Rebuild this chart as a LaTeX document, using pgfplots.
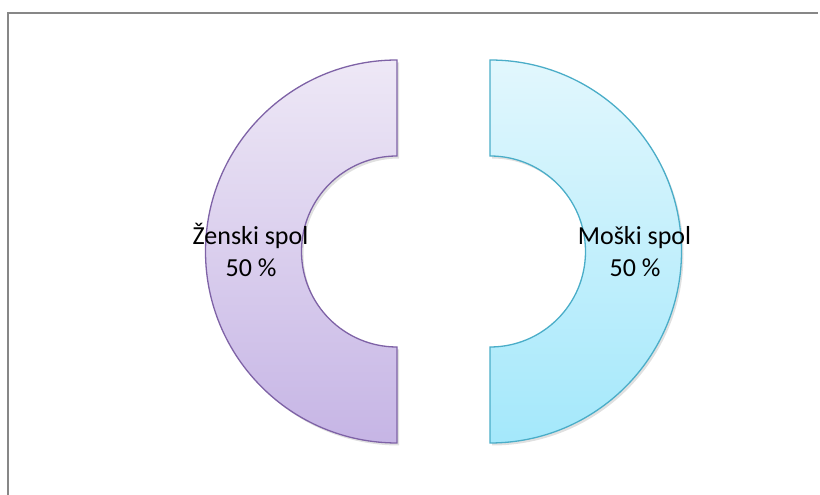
\documentclass[border=0pt]{standalone}
\usepackage{fontspec}
\setmainfont{Carlito}
\usepackage{pgfplots}
\pgfplotsset{compat=1.18}

\definecolor{frameGray}{HTML}{878787}
\definecolor{purpleTop}{HTML}{EEE8F6}
\definecolor{purpleBot}{HTML}{C6B5E5}
\definecolor{purpleEdge}{HTML}{7E62A6}
\definecolor{cyanTop}{HTML}{E2F7FD}
\definecolor{cyanBot}{HTML}{A4E8FB}
\definecolor{cyanEdge}{HTML}{4AADC8}

% shares (percent)
\def\vZ{50}
\def\vM{50}

\begin{document}
\begin{tikzpicture}
\begin{axis}[
    width=820pt, height=495pt, scale only axis,
    xmin=0, xmax=820, ymin=0, ymax=495,
    hide axis, clip=true,
]
\path (axis cs:0,0) rectangle (axis cs:820,495);
% chart frame (right and bottom edges fall outside the picture)
\draw[frameGray, line width=2pt] (axis cs:7.5,0) -- (axis cs:7.5,482) -- (axis cs:818,482);

\pgfmathsetmacro{\tot}{\vZ+\vM}
\pgfmathsetmacro{\aZ}{360*(\vZ/\tot)}
\pgfmathsetmacro{\aM}{360*(\vM/\tot)}
% slice centres, pushed out from the middle along each slice's mid angle
\pgfmathsetmacro{\zx}{443.5+46.5*cos(90+\aZ/2)}
\pgfmathsetmacro{\mx}{443.5+46.5*cos(90+\aZ+\aM/2)}
\def\ro{191.5pt}
\def\ri{95.5pt}

% soft shadows
\fill[black, opacity=0.12] ([shift={(90:\ro)}]axis cs:\zx+2,241) arc[start angle=90, end angle={90+\aZ}, radius=\ro]
    -- ([shift={(90+\aZ:\ri)}]axis cs:\zx+2,241) arc[start angle={90+\aZ}, end angle=90, radius=\ri] -- cycle;
\fill[black, opacity=0.12] ([shift={(90+\aZ:\ro)}]axis cs:\mx+2,241) arc[start angle={90+\aZ}, end angle=450, radius=\ro]
    -- ([shift={(450:\ri)}]axis cs:\mx+2,241) arc[start angle=450, end angle={90+\aZ}, radius=\ri] -- cycle;

% Zenski spol
\path[top color=purpleTop, bottom color=purpleBot, draw=purpleEdge, line width=1.3pt]
    ([shift={(90:\ro)}]axis cs:\zx,243.5) arc[start angle=90, end angle={90+\aZ}, radius=\ro]
    -- ([shift={(90+\aZ:\ri)}]axis cs:\zx,243.5) arc[start angle={90+\aZ}, end angle=90, radius=\ri] -- cycle;
% Moski spol
\path[top color=cyanTop, bottom color=cyanBot, draw=cyanEdge, line width=1.3pt]
    ([shift={(90+\aZ:\ro)}]axis cs:\mx,243.5) arc[start angle={90+\aZ}, end angle=450, radius=\ro]
    -- ([shift={(450:\ri)}]axis cs:\mx,243.5) arc[start angle=450, end angle={90+\aZ}, radius=\ri] -- cycle;

% labels
\node[anchor=base, font=\fontsize{26}{31}\selectfont] at (axis cs:250.5,250) {Ženski spol};
\node[anchor=base, font=\fontsize{26}{31}\selectfont] at (axis cs:251,218) {\vZ\ \%};
\node[anchor=base, font=\fontsize{26}{31}\selectfont] at (axis cs:634.5,250) {Moški spol};
\node[anchor=base, font=\fontsize{26}{31}\selectfont] at (axis cs:635,218) {\vM\ \%};
\end{axis}
\end{tikzpicture}
\end{document}
